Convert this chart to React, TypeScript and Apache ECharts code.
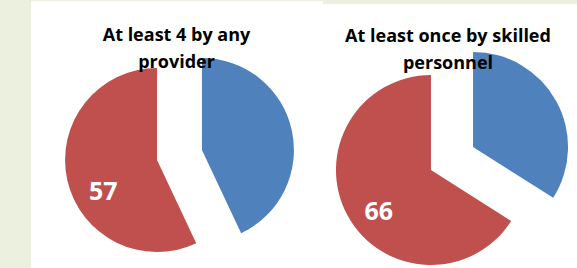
import React, { useEffect, useRef } from "react";
import * as echarts from "echarts";

const titles = [
  ["At least 4 by any", "provider"],
  ["At least once by skilled", "personnel"],
];
const categories = ["Other", "Received"];
const valuesAny = [43, 57];
const valuesSkilled = [34, 66];
const colors = ["#4F81BD", "#C0504D"];

const FONT = "'Open Sans', 'Noto Sans', sans-serif";

export default function App() {
  const ref = useRef<HTMLDivElement>(null);
  useEffect(() => {
    if (!ref.current) return;
    const chart = echarts.init(ref.current, undefined, { renderer: "svg" });
    const mkData = (vals: number[]) =>
      vals.map((v, i) => ({
        name: categories[i],
        value: v,
        selected: true,
        itemStyle: { color: colors[i] },
        label: { show: i === 1 },
      }));
    const labelShift = [
      { dx: -6, dy: 19 },
      { dx: -8, dy: 16 },
    ];
    const mkSeries = (vals: number[], idx: number, center: number[], r: number) => ({
      type: "pie",
      center,
      radius: r,
      startAngle: 90,
      clockwise: true,
      selectedMode: "multiple",
      selectedOffset: idx === 0 ? 23 : 24,
      avoidLabelOverlap: false,
      data: mkData(vals),
      label: {
        show: true,
        position: "inside",
        formatter: "{c}",
        color: "#ffffff",
        fontFamily: FONT,
        fontWeight: "bold",
        fontSize: 25,
      },
      labelLine: { show: false },
      labelLayout: () => labelShift[idx],
      emphasis: { disabled: true },
      select: { itemStyle: {} },
      itemStyle: { borderWidth: 0 },
      silent: true,
    });
    const titleEls: any[] = [];
    const tx = [176.5, 448];
    const ty = [[34, 61], [35, 62]];
    titles.forEach((lines, i) => {
      lines.forEach((line, j) => {
        titleEls.push({
          type: "text",
          x: tx[i],
          y: ty[i][j],
          z: 100,
          style: {
            text: line,
            fill: "#000000",
            font: `bold 18px ${FONT}`,
            textAlign: "center",
            textVerticalAlign: "middle",
          },
        });
      });
    });
    chart.setOption({
      animation: false,
      backgroundColor: "#ffffff",
      graphic: [
        { type: "rect", z: -10, shape: { x: 0, y: 0, width: 31, height: 268 }, style: { fill: "#EBF1DE" } },
        { type: "rect", z: -10, shape: { x: 0, y: 0, width: 323, height: 1 }, style: { fill: "#EBF1DE" } },
        { type: "rect", z: -10, shape: { x: 323, y: 0, width: 254, height: 4 }, style: { fill: "#EBF1DE" } },
        ...titleEls,
      ],
      series: [
        mkSeries(valuesAny, 0, [179.5, 155], 92),
        mkSeries(valuesSkilled, 1, [452, 158.5], 95),
      ],
    });
    return () => chart.dispose();
  }, []);
  return (
    <div
      ref={ref}
      style={{ position: "fixed", left: 0, top: 0, width: 577, height: 268 }}
    />
  );
}
